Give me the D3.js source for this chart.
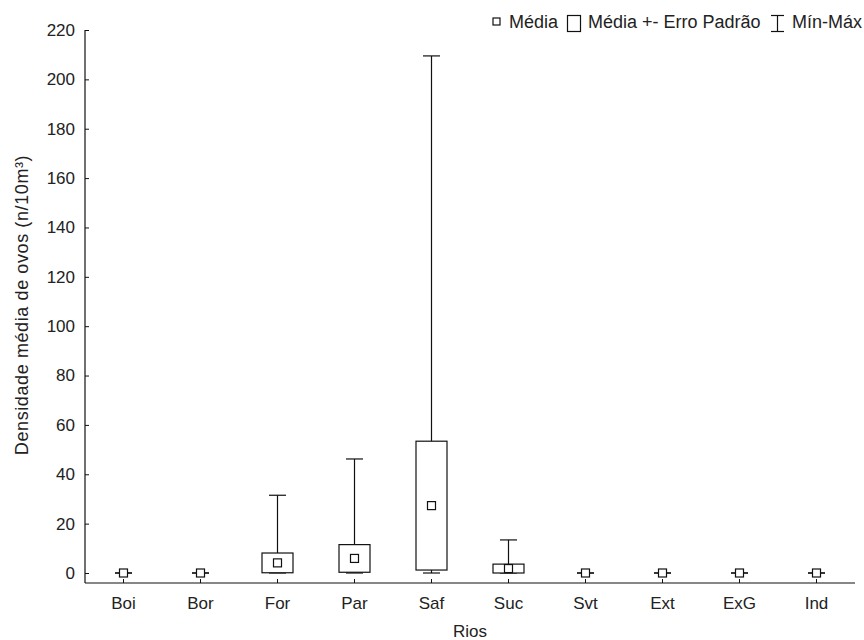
<!DOCTYPE html>
<html>
<head>
<meta charset="utf-8">
<script src="https://cdn.jsdelivr.net/npm/d3@7"></script>
<style>
  html, body { margin: 0; padding: 0; background: #fff; }
  svg { display: block; }
  text { font-family: "Liberation Sans", Arial, sans-serif; fill: #222; }
</style>
</head>
<body>
<svg id="chart" width="864" height="640"></svg>
<script>
const categories = ["Boi", "Bor", "For", "Par", "Saf", "Suc", "Svt", "Ext", "ExG", "Ind"];
const means = [0, 0, 4.1, 5.9, 27.3, 1.8, 0, 0, 0, 0];
const stdErrors = [0, 0, 4.0, 5.6, 26.1, 1.8, 0, 0, 0, 0];
const mins = [0, 0, 0, 0, 0, 0, 0, 0, 0, 0];
const maxs = [0, 0, 31.5, 46.2, 209.5, 13.4, 0, 0, 0, 0];
const yTicks = [0, 20, 40, 60, 80, 100, 120, 140, 160, 180, 200, 220];
const legendLabels = ["Média", "Média +- Erro Padrão", "Mín-Máx"];
const xTitle = "Rios";
const yTitle = "Densidade média de ovos (n/10m³)";

const svg = d3.select("#chart");
const plotLeft = 85, plotRight = 855, plotTop = 30, zeroY = 573, axisY = 583;
const fs = 17;
const ink = "#111";

const x = d3.scaleBand().domain(categories).range([plotLeft, plotRight]);
const y = d3.scaleLinear().domain([0, 220]).range([zeroY, plotTop]);

const data = categories.map((c, i) => ({
  c, mean: means[i], lo: means[i] - stdErrors[i], hi: means[i] + stdErrors[i],
  min: mins[i], max: maxs[i]
}));

// Y axis
const yAxis = d3.axisLeft(y).tickValues(yTicks).tickSizeInner(-4).tickSizeOuter(0).tickPadding(10);
const gy = svg.append("g").attr("transform", `translate(${plotLeft},0)`).call(yAxis);
gy.select(".domain").remove();
gy.selectAll(".tick line").attr("stroke", ink);
gy.selectAll(".tick text").attr("font-size", fs).attr("fill", "#222").attr("font-family", null);
svg.append("line").attr("x1", plotLeft).attr("x2", plotLeft).attr("y1", plotTop).attr("y2", axisY)
  .attr("stroke", ink).attr("stroke-width", 1.2);

// X axis
const xAxis = d3.axisBottom(x).tickSizeInner(-4).tickSizeOuter(0).tickPadding(14);
const gx = svg.append("g").attr("transform", `translate(0,${axisY})`).call(xAxis);
gx.select(".domain").remove();
gx.selectAll(".tick line").attr("stroke", ink);
gx.selectAll(".tick text").attr("font-size", fs).attr("fill", "#222").attr("font-family", null);
svg.append("line").attr("x1", plotLeft).attr("x2", plotRight).attr("y1", axisY).attr("y2", axisY)
  .attr("stroke", ink).attr("stroke-width", 1.2);

// Titles
svg.append("text").attr("x", (plotLeft + plotRight) / 2).attr("y", 637).attr("text-anchor", "middle")
  .attr("font-size", fs).text(xTitle);
svg.append("text").attr("transform", `translate(28,${(152 + 458) / 2}) rotate(-90)`)
  .attr("text-anchor", "middle").attr("font-size", 18).attr("letter-spacing", 0.6).text(yTitle);

// Marks
const boxW = 31, capW = 17, sq = 8;
const g = svg.append("g").attr("stroke", ink).attr("stroke-width", 1.2).attr("fill", "none");
data.forEach(d => {
  const cx = x(d.c) + x.bandwidth() / 2;
  g.append("line").attr("x1", cx).attr("x2", cx).attr("y1", y(d.max)).attr("y2", y(d.hi));
  g.append("line").attr("x1", cx).attr("x2", cx).attr("y1", y(d.lo)).attr("y2", y(d.min));
  g.append("line").attr("x1", cx - capW / 2).attr("x2", cx + capW / 2).attr("y1", y(d.max)).attr("y2", y(d.max));
  g.append("line").attr("x1", cx - capW / 2).attr("x2", cx + capW / 2).attr("y1", y(d.min)).attr("y2", y(d.min));
  g.append("rect").attr("x", cx - boxW / 2).attr("width", boxW)
    .attr("y", y(d.hi)).attr("height", Math.max(0, y(d.lo) - y(d.hi))).attr("fill", "#fff");
  g.append("rect").attr("x", cx - sq / 2).attr("y", y(d.mean) - sq / 2)
    .attr("width", sq).attr("height", sq).attr("fill", "#fff");
});

// Legend
const lg = svg.append("g");
const base = 28, lfs = 18;
lg.append("rect").attr("x", 493).attr("y", 18).attr("width", 7).attr("height", 7)
  .attr("fill", "#fff").attr("stroke", ink).attr("stroke-width", 1.2);
lg.append("text").attr("x", 509).attr("y", base).attr("font-size", lfs).text(legendLabels[0]);
lg.append("rect").attr("x", 567.5).attr("y", 15.5).attr("width", 13).attr("height", 16)
  .attr("fill", "#fff").attr("stroke", ink).attr("stroke-width", 1.2);
lg.append("text").attr("x", 588).attr("y", base).attr("font-size", lfs).text(legendLabels[1]);
const ib = lg.append("g").attr("stroke", ink).attr("stroke-width", 1.2);
ib.append("line").attr("x1", 777.5).attr("x2", 777.5).attr("y1", 15.5).attr("y2", 31.5);
ib.append("line").attr("x1", 771).attr("x2", 784).attr("y1", 15.5).attr("y2", 15.5);
ib.append("line").attr("x1", 771).attr("x2", 784).attr("y1", 31.5).attr("y2", 31.5);
lg.append("text").attr("x", 792).attr("y", base).attr("font-size", lfs).text(legendLabels[2]);
</script>
</body>
</html>
